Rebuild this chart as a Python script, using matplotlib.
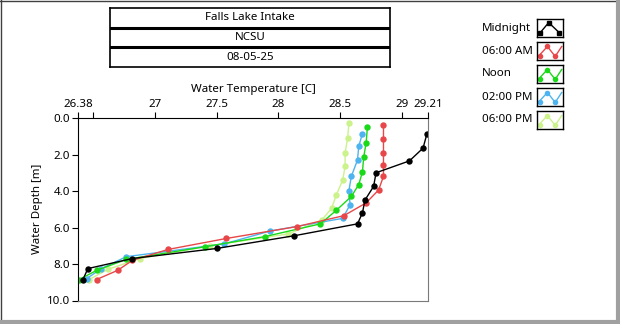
import matplotlib.pyplot as plt
from matplotlib.lines import Line2D

plt.rcParams['font.family'] = ['Noto Sans', 'DejaVu Sans']

# depth profiles, one per reading time
labels = ['Midnight', '06:00 AM', 'Noon', '02:00 PM', '06:00 PM']
colors = ['#000000', '#e8474a', '#19d919', '#4db4ef', '#ccf28c']

midnight_depth = [0.9, 1.65, 2.35, 3.0, 3.75, 4.5, 5.2, 5.8, 6.45, 7.15, 7.7, 8.25, 8.85]
midnight_temp = [29.2, 29.17, 29.06, 28.79, 28.77, 28.70, 28.68, 28.64, 28.13, 27.50, 26.82, 26.46, 26.42]

am6_depth = [0.4, 1.15, 1.9, 2.55, 3.2, 3.95, 4.65, 5.35, 5.95, 6.6, 7.2, 7.8, 8.35, 8.85]
am6_temp = [28.85, 28.85, 28.85, 28.85, 28.85, 28.81, 28.71, 28.53, 28.15, 27.58, 27.11, 26.82, 26.70, 26.53]

noon_depth = [0.5, 1.35, 2.15, 2.95, 3.65, 4.3, 5.05, 5.8, 6.5, 7.05, 7.75, 8.35, 8.85]
noon_temp = [28.72, 28.71, 28.69, 28.68, 28.65, 28.59, 28.47, 28.34, 27.89, 27.41, 26.77, 26.53, 26.39]

pm2_depth = [0.85, 1.55, 2.3, 3.2, 4.0, 4.75, 5.5, 6.2, 6.9, 7.6, 8.25, 8.8]
pm2_temp = [28.68, 28.65, 28.64, 28.59, 28.57, 28.58, 28.52, 27.93, 27.56, 26.77, 26.57, 26.45]

pm6_depth = [0.3, 1.1, 1.9, 2.65, 3.4, 4.2, 4.95, 5.6, 6.35, 7.0, 7.7, 8.3, 8.85]
pm6_temp = [28.57, 28.56, 28.54, 28.54, 28.52, 28.47, 28.43, 28.35, 28.08, 27.45, 26.88, 26.62, 26.47]

depths = [midnight_depth, am6_depth, noon_depth, pm2_depth, pm6_depth]
temps = [midnight_temp, am6_temp, noon_temp, pm2_temp, pm6_temp]

header = ['Falls Lake Intake', 'NCSU', '08-05-25']
x_ticks = [26.38, 26.5, 27, 27.5, 28, 28.5, 29, 29.21]
x_ticklabels = ['26.38', '', '27', '27.5', '28', '28.5', '29', '29.21']
y_ticks = [0, 2, 4, 6, 8, 10]

W, H = 620, 324
fig = plt.figure(figsize=(W / 100, H / 100), dpi=100)
fig.patch.set_facecolor('white')


def fx(px):
    return px / W


def fy(py):
    return 1 - py / H


# window frame
fig.add_artist(Line2D([0, 1], [fy(0.5), fy(0.5)], color='#404040', lw=1))
fig.add_artist(Line2D([fx(0.5), fx(0.5)], [0, 1], color='#404040', lw=1))
fig.add_artist(Line2D([0, 1], [fy(322), fy(322)], color='#a0a0a0', lw=3))
fig.add_artist(Line2D([fx(618), fx(618)], [0, 1], color='#a0a0a0', lw=3))

# header table
hx0, hx1, hy0, hy1 = 110, 390, 8, 67
tab = fig.add_axes([fx(hx0), fy(hy1), fx(hx1 - hx0), (hy1 - hy0) / H])
tab.set_xlim(0, 1)
tab.set_ylim(3, 0)
tab.set_xticks([])
tab.set_yticks([])
for s in tab.spines.values():
    s.set_linewidth(1.2)
for r in (1, 2):
    tab.axhline(r, color='black', lw=2.2)
for r, txt in enumerate(header):
    tab.text(0.5, r + 0.5, txt, ha='center', va='center', fontsize=8.3)

# main plot
ax = fig.add_axes([fx(78), fy(300.5), fx(428 - 78), (300.5 - 118) / H])
for d, t, c in reversed(list(zip(depths, temps, colors))):
    ax.plot(t, d, color=c, lw=1, marker='o', markersize=4.6,
            markeredgewidth=0)

ax.set_xlim(26.38, 29.21)
ax.set_ylim(10, 0)
ax.xaxis.tick_top()
ax.xaxis.set_label_position('top')
ax.set_xticks(x_ticks)
ax.set_xticklabels(x_ticklabels)
ax.set_yticks(y_ticks)
ax.set_yticklabels([f'{v:.1f}' for v in y_ticks])
ax.tick_params(labelsize=8.3, length=4, width=0.8, pad=1.5)
ax.set_xlabel('Water Temperature [C]', fontsize=8.3, labelpad=5)
ax.set_ylabel('Water Depth [m]', fontsize=8.3, labelpad=3)
ax.spines['left'].set_color('black')
ax.spines['top'].set_color('black')
ax.spines['right'].set_color('#7a7a7a')
ax.spines['bottom'].set_color('#7a7a7a')

# legend with little zigzag icons
for i, (lab, c) in enumerate(zip(labels, colors)):
    yc = 28 + i * 23
    fig.text(fx(482), fy(yc), lab, ha='left', va='center', fontsize=8.3)
    icon = fig.add_axes([fx(537), fy(yc + 9), fx(26), 18 / H])
    icon.set_xlim(0, 1)
    icon.set_ylim(0, 1)
    icon.set_xticks([])
    icon.set_yticks([])
    for s in icon.spines.values():
        s.set_linewidth(1)
    if i == 0:
        icon.plot([0.1, 0.45, 0.85], [0.2, 0.8, 0.25], color=c, lw=1,
                  marker='s', markersize=3)
    else:
        icon.plot([0.05, 0.4, 0.7, 0.95], [0.2, 0.75, 0.2, 0.75], color=c,
                  lw=1)
        icon.plot([0.1, 0.4, 0.7], [0.2, 0.75, 0.2], color=c, lw=0,
                  marker='o', markersize=4, markeredgewidth=0)

fig.savefig('out.png', dpi=100, facecolor='white')
